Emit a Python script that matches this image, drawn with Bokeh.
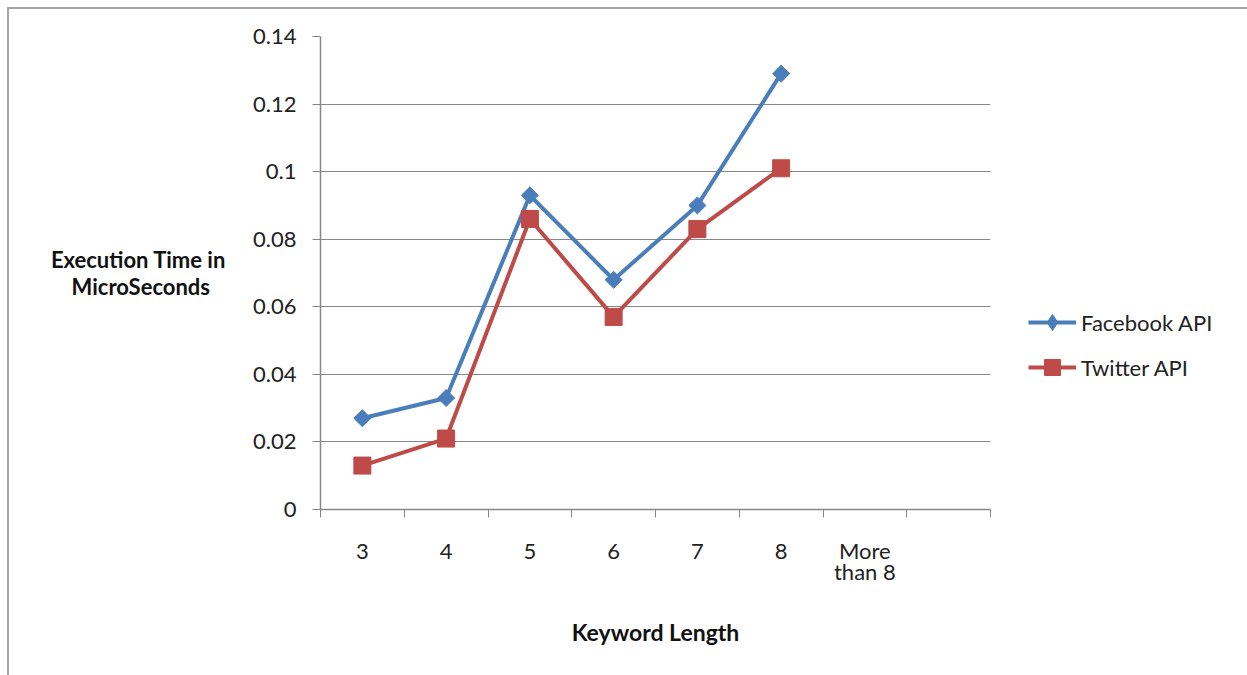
from bokeh.plotting import figure
from bokeh.models import (FixedTicker, Range1d, Legend, LegendItem)
from bokeh.embed import file_html
from bokeh.resources import INLINE
import math

# ---- data ----
categories = ["3", "4", "5", "6", "7", "8", "More\nthan 8", ""]
facebook_api = [0.027, 0.033, 0.093, 0.068, 0.090, 0.129]
twitter_api = [0.013, 0.021, 0.086, 0.057, 0.083, 0.101]
y_ticks = [0, 0.02, 0.04, 0.06, 0.08, 0.1, 0.12, 0.14]
y_tick_labels = ["0", "0.02", "0.04", "0.06", "0.08", "0.1", "0.12", "0.14"]

FONT = "Lato"
GRAY = "#878787"
BLUE = "#4a7ebb"
RED = "#be4b48"

n = len(categories)
centers = [i + 0.5 for i in range(n)]
bounds = [float(i) for i in range(n + 1)]

p = figure(width=1235, height=667, output_backend="svg", toolbar_location=None,
           x_range=Range1d(0, n), y_range=Range1d(0, 0.14),
           min_border_left=311, min_border_right=254, min_border_top=27,
           min_border_bottom=167, frame_width=670, frame_height=473)
p.margin = (7, 0, 0, 7)
p.styles = {"border-top": "2px solid #a6a6a6", "border-left": "2px solid #a6a6a6",
            "border-right": "1px solid #e0e0e0"}
p.outline_line_color = None
p.background_fill_color = "white"
p.border_fill_color = "white"

# x axis
xa = p.xaxis[0]
xa.ticker = FixedTicker(ticks=centers, minor_ticks=bounds)
xa.major_label_overrides = {c: lab for c, lab in zip(centers, categories)}
xa.major_tick_out = 0
xa.major_tick_in = 0
xa.minor_tick_out = 8
xa.minor_tick_in = 0
xa.minor_tick_line_color = GRAY
xa.axis_line_color = GRAY
xa.axis_line_width = 1.5
xa.major_label_standoff = 19
xa.major_label_text_font = FONT
xa.major_label_text_font_size = "22px"
xa.major_label_text_line_height = 0.8
xa.major_label_text_color = "#222222"
xa.axis_label = "Keyword Length"
xa.axis_label_text_font = FONT
xa.axis_label_text_font_style = "bold"
xa.axis_label_text_font_size = "23px"
xa.axis_label_text_color = "#111111"
xa.axis_label_standoff = 30

# y axis
ya = p.yaxis[0]
ya.ticker = FixedTicker(ticks=y_ticks, minor_ticks=[])
ya.major_label_overrides = {t: l for t, l in zip(y_ticks, y_tick_labels)}
ya.major_tick_out = 8
ya.major_tick_in = 0
ya.major_tick_line_color = GRAY
ya.axis_line_color = GRAY
ya.axis_line_width = 1.5
ya.major_label_standoff = 16
ya.major_label_text_font = FONT
ya.major_label_text_font_size = "22px"
ya.major_label_text_color = "#222222"
ya.axis_label = "Execution Time in\nMicroSeconds\u00a0\u00a0\u00a0"
ya.axis_label_orientation = "horizontal"
ya.axis_label_text_align = "center"
ya.axis_label_text_font = FONT
ya.axis_label_text_font_style = "bold"
ya.axis_label_text_font_size = "22px"
ya.axis_label_text_line_height = 1.0
ya.axis_label_text_color = "#111111"
ya.axis_label_standoff = 24

p.xgrid.visible = False
p.ygrid.ticker = FixedTicker(ticks=y_ticks)
p.ygrid.grid_line_color = GRAY
p.ygrid.grid_line_width = 1.2

xs_fb = centers[:len(facebook_api)]
xs_tw = centers[:len(twitter_api)]

l1 = p.line(xs_fb, facebook_api, line_color=BLUE, line_width=4)
# diamond used for the legend swatch; hidden beneath the rotated squares
m1_leg = p.scatter(xs_fb, facebook_api, marker="diamond", size=15,
                   fill_color=BLUE, line_color=BLUE)
m1 = p.scatter(xs_fb, facebook_api, marker="square", angle=math.pi / 4, size=12,
               fill_color=BLUE, line_color=BLUE)
l2 = p.line(xs_tw, twitter_api, line_color=RED, line_width=4)
m2 = p.scatter(xs_tw, twitter_api, marker="square", size=17, fill_color=RED,
               line_color=RED)

legend = Legend(items=[LegendItem(label="Facebook API", renderers=[l1, m1_leg]),
                       LegendItem(label="Twitter API", renderers=[l2, m2])],
                location=(38, 122), padding=0, margin=0, spacing=5,
                glyph_width=48, glyph_height=40, label_height=20,
                label_standoff=5, border_line_color=None,
                background_fill_alpha=0,
                label_text_font=FONT, label_text_font_size="22px",
                label_text_color="#222222")
p.add_layout(legend, "right")

open("out.html", "w").write(file_html(p, INLINE))
